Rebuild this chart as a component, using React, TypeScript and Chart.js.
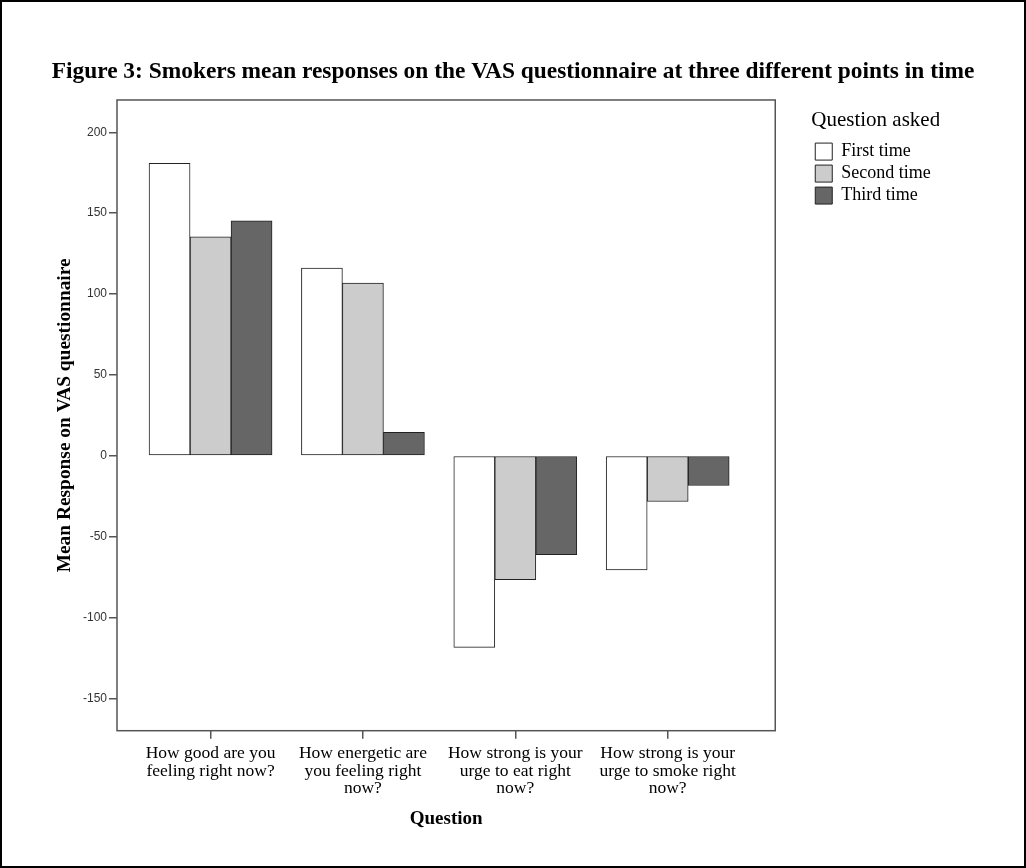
import React, { useEffect, useRef } from "react";
import { Chart, registerables } from "chart.js";
Chart.register(...registerables);

const categories: string[][] = [
  ["How good are you", "feeling right now?"],
  ["How energetic are", "you feeling right", "now?"],
  ["How strong is your", "urge to eat right", "now?"],
  ["How strong is your", "urge to smoke right", "now?"],
];
const seriesNames = ["First time", "Second time", "Third time"];
const firstTime = [180.9, 116.1, -118.5, -70.6];
const secondTime = [135.4, 106.8, -76.6, -28.3];
const thirdTime = [145.2, 14.5, -61.1, -18.4];
const yTickValues = [-150, -100, -50, 0, 50, 100, 150, 200];
const fills = ["#ffffff", "#cccccc", "#666666"];

const SERIF = "'Liberation Serif', 'Times New Roman', serif";
const SANS = "'Liberation Sans', Arial, sans-serif";

const framePlugin = {
  id: "frame",
  afterDatasetsDraw(chart: any) {
    const { ctx, chartArea: a } = chart;
    ctx.save();
    ctx.strokeStyle = "#555555";
    ctx.lineWidth = 1.5;
    ctx.strokeRect(a.left, a.top, a.right - a.left, a.bottom - a.top);
    ctx.restore();
  },
};

export default function App() {
  const ref = useRef<HTMLCanvasElement | null>(null);
  useEffect(() => {
    document.body.style.margin = "0";
    const series = [firstTime, secondTime, thirdTime];
    const chart = new Chart(ref.current as HTMLCanvasElement, {
      type: "bar",
      data: {
        datasets: series.map((vals, k) => ({
          label: seriesNames[k],
          data: vals.map((v, i) => ({ x: i, y: v })),
          backgroundColor: fills[k],
          borderColor: "#222222",
          borderWidth: 1,
          borderSkipped: false,
          barThickness: 41,
        })),
      },
      options: {
        animation: false,
        responsive: false,
        layout: { padding: { left: 0, right: 0, top: 0, bottom: 36 } },
        plugins: {
          tooltip: { enabled: false },
          title: {
            display: true,
            text: "Figure 3: Smokers mean responses on the VAS questionnaire at three different points in time",
            font: { family: SERIF, size: 23.4, weight: "bold" },
            color: "#000",
            padding: { top: 56, bottom: 13.9 },
          },
          legend: {
            display: true,
            position: "right",
            align: "start",
            fullSize: false,
            title: {
              display: true,
              text: "Question asked",
              position: "start",
              color: "#000",
              font: { family: SERIF, size: 21 },
              padding: { top: 10.4, bottom: 3 },
            },
            labels: {
              boxWidth: 17,
              boxHeight: 17,
              padding: 4,
              color: "#000",
              font: { family: SERIF, size: 18 },
            },
          },
        },
        scales: {
          x: {
            type: "linear",
            offset: false,
            min: -0.614,
            max: 3.706,
            afterBuildTicks: (s: any) => {
              s.ticks = categories.map((_, i) => ({ value: i }));
            },
            grid: { display: true, offset: false, drawOnChartArea: false, drawTicks: true, tickLength: 8, color: "#555555", lineWidth: 1.5 },
            border: { display: false },
            ticks: {
              autoSkip: false,
              maxRotation: 0,
              minRotation: 0,
              padding: 6,
              color: "#000",
              font: { family: SERIF, size: 17.5, lineHeight: 1.0 },
              callback: (v: any) => categories[Math.round(Number(v))] ?? "",
            },
            title: {
              display: true,
              text: "Question",
              color: "#000",
              font: { family: SERIF, size: 19, weight: "bold" },
              padding: { top: 4, bottom: 0 },
            },
          },
          y: {
            type: "linear",
            min: -170,
            max: 220,
            afterBuildTicks: (s: any) => {
              s.ticks = yTickValues.map((v) => ({ value: v }));
            },
            afterFit: (s: any) => {
              s.width = 115;
            },
            grid: { display: true, drawOnChartArea: false, drawTicks: true, tickLength: 8, color: "#555555", lineWidth: 1.5 },
            border: { display: false },
            ticks: {
              padding: 2,
              color: "#333",
              font: { family: SANS, size: 12 },
              callback: (v: any) => String(v),
            },
            title: {
              display: true,
              text: "Mean Response on VAS questionnaire",
              color: "#000",
              font: { family: SERIF, size: 19.4, weight: "bold" },
              padding: { top: 51.4, bottom: 0 },
            },
          },
          spacer: {
            type: "linear",
            position: "right",
            display: true,
            grid: { display: false },
            border: { display: false },
            ticks: { display: false },
            afterFit: (s: any) => {
              s.width = 36;
            },
          },
          outerSpacer: {
            type: "linear",
            position: "right",
            weight: 2000,
            display: true,
            grid: { display: false },
            border: { display: false },
            ticks: { display: false },
            afterFit: (s: any) => {
              s.width = 85;
            },
          },
        },
      } as any,
      plugins: [framePlugin],
    });
    return () => chart.destroy();
  }, []);
  return (
    <div
      style={{
        width: 1026,
        height: 868,
        border: "2px solid #000",
        boxSizing: "border-box",
        background: "#fff",
      }}
    >
      <canvas ref={ref} width={1022} height={864} style={{ display: "block" }} />
    </div>
  );
}
